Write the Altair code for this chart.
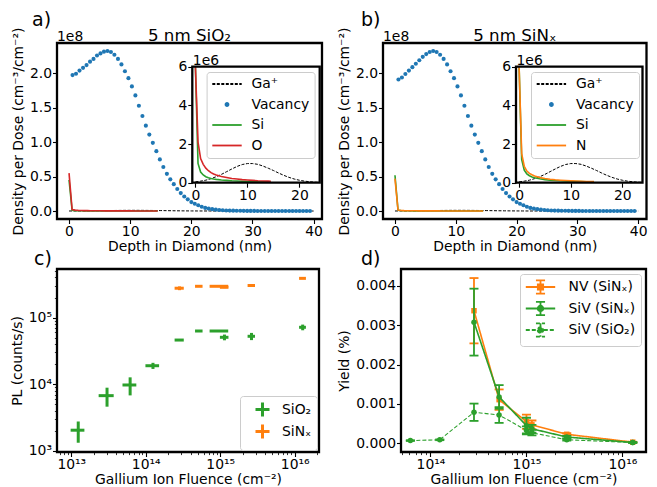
import altair as alt
import pandas as pd

FONT = "DejaVu Sans"
FS = 13.9
BLUE, ORANGE, GREEN, RED = "#1f77b4", "#ff7f0e", "#2ca02c", "#d62728"
FRAME = 2.3
TICK = 4.5

# ---------------- panels a / b : depth profiles ----------------
depth_nm = [0.57, 1.14, 1.71, 2.29, 2.86, 3.43, 4.0, 4.57, 5.14, 5.71,
            6.28, 6.85, 7.42, 8.0, 8.57, 9.14, 9.71, 10.28, 10.85, 11.42,
            12.0, 12.56, 13.13, 13.7, 14.28, 14.85, 15.42, 16.0, 16.56, 17.13,
            17.7, 18.27, 18.84, 19.41, 20.0, 20.56, 21.13, 21.7, 22.27, 22.84,
            23.41, 24.0, 24.56, 25.13, 25.7, 26.27, 26.84, 27.41, 28.0, 28.56,
            29.13, 29.7, 30.27, 30.84, 31.41, 32.0, 32.56, 33.13, 33.7, 34.27,
            34.84, 35.41, 36.0, 36.56, 37.13, 37.7, 38.27, 38.84, 39.41]
# vacancy density per dose, units of 1e8 cm^-3/cm^-2
vacancy_sio2 = [1.975, 1.995, 2.04, 2.08, 2.12, 2.17, 2.21, 2.26, 2.29, 2.315,
                2.325, 2.31, 2.27, 2.21, 2.13, 2.03, 1.93, 1.81, 1.68, 1.53,
                1.38, 1.24, 1.11, 0.99, 0.87, 0.75, 0.64, 0.54, 0.46, 0.39,
                0.32, 0.26, 0.21, 0.17, 0.13, 0.105, 0.083, 0.062, 0.045, 0.035,
                0.027, 0.02, 0.015, 0.011, 0.008, 0.006, 0.005, 0.004, 0.003, 0.0025,
                0.002, 0.0015, 0.0012, 0.001, 0.0008, 0.0006, 0.0005, 0.0004, 0.0003, 0.0003,
                0.0002, 0.0002, 0.0001, 0.0001, 0.0001, 0.0001, 0.0, 0.0, 0.0]
vacancy_sinx = [1.91, 1.94, 1.99, 2.04, 2.09, 2.14, 2.19, 2.24, 2.28, 2.31,
                2.325, 2.31, 2.27, 2.21, 2.13, 2.03, 1.93, 1.81, 1.68, 1.53,
                1.38, 1.24, 1.11, 0.99, 0.87, 0.75, 0.64, 0.54, 0.46, 0.39,
                0.32, 0.26, 0.21, 0.17, 0.13, 0.105, 0.083, 0.062, 0.045, 0.035,
                0.027, 0.02, 0.015, 0.011, 0.008, 0.006, 0.005, 0.004, 0.003, 0.0025,
                0.002, 0.0015, 0.0012, 0.001, 0.0008, 0.0006, 0.0005, 0.0004, 0.0003, 0.0003,
                0.0002, 0.0002, 0.0001, 0.0001, 0.0001, 0.0001, 0.0, 0.0, 0.0]
# recoil profiles, units of 1e6
profile_depth = [0, 0.5, 1.0, 1.5, 2.0, 2.5, 3.0, 3.5, 4.0, 5.0,
                 6.0, 7.0, 8.0, 9.0, 10.0, 11.0, 12.0, 13.0, 14.0, 14.5]
si_sio2 = [45, 1.0, 0.55, 0.4, 0.31, 0.26, 0.22, 0.19, 0.17, 0.14,
           0.12, 0.1, 0.09, 0.075, 0.065, 0.055, 0.05, 0.045, 0.04, 0.04]
o_sio2 = [55, 2.1, 1.25, 0.95, 0.75, 0.62, 0.52, 0.45, 0.4, 0.32,
          0.27, 0.22, 0.19, 0.16, 0.14, 0.12, 0.1, 0.09, 0.08, 0.075]
si_sinx = [52, 1.2, 0.65, 0.45, 0.36, 0.3, 0.26, 0.23, 0.2, 0.16,
           0.13, 0.11, 0.1, 0.085, 0.075, 0.065, 0.058, 0.05, 0.045, 0.043]
n_sinx = [47, 1.5, 0.85, 0.6, 0.48, 0.41, 0.35, 0.31, 0.27, 0.22,
          0.18, 0.15, 0.13, 0.11, 0.095, 0.085, 0.075, 0.065, 0.06, 0.055]
ga_depth = [0, 1, 2, 3, 4, 5, 6, 7, 8, 9, 10, 11, 12, 13, 14, 15, 16, 17, 18, 19,
            20, 21, 22, 23, 24, 26, 28, 30, 35, 40]
ga_profile = [0.045, 0.08, 0.13, 0.21, 0.31, 0.43, 0.57, 0.71, 0.84, 0.94,
              0.99, 0.99, 0.95, 0.86, 0.75, 0.63, 0.50, 0.38, 0.275, 0.19,
              0.127, 0.08, 0.049, 0.028, 0.016, 0.004, 0.001, 0.0, 0.0, 0.0]

main_x_ticks = [0, 10, 20, 30, 40]
main_y_ticks = [0, 0.5e8, 1.0e8, 1.5e8, 2.0e8]
inset_x_ticks = [0, 10, 20]
inset_y_ticks = [0, 2e6, 4e6, 6e6]

# ---------------- panel c : PL vs fluence ----------------
c_fluence_sio2 = [1.24e13, 3.02e13, 6.17e13, 1.25e14, 2.84e14, 5.19e14, 1.0e15, 1.14e15, 2.63e15, 1.28e16]
c_fluence_err_sio2 = [0.26e13, 0.69e13, 1.3e13, 0.26e14, 0.4e14, 0.6e14, 2.8e14, 1.5e14, 3.0e14, 1.35e15]
c_pl_sio2 = [2050, 6760, 9770, 19000, 46100, 63000, 63000, 50700, 52500, 71600]
c_pl_err_sio2 = [720, 2140, 2950, 2000, 1500, 300, 800, 5000, 6500, 7000]
c_fluence_sinx = [2.84e14, 5.19e14, 1.0e15, 1.14e15, 2.63e15, 1.28e16]
c_fluence_err_sinx = [0.4e14, 0.6e14, 2.8e14, 1.5e14, 3.0e14, 1.35e15]
c_pl_sinx = [276000, 295000, 295000, 285000, 303000, 388000]
c_pl_err_sinx = [18000, 3000, 3000, 8000, 5000, 5000]

# ---------------- panel d : yield vs fluence ----------------
d_fluence_sinx = [2.84e14, 5.19e14, 1.0e15, 1.14e15, 2.63e15, 1.28e16]
nv_yield = [0.00337, 0.00111, 0.00055, 0.00047, 0.00023, 0.00003]
nv_err = [0.00083, 0.00026, 0.00018, 0.00011, 0.00003, 0.00001]
siv_sinx_yield = [0.00308, 0.00118, 0.00045, 0.00037, 0.00016, 0.00002]
siv_sinx_err = [0.00085, 0.0003, 0.0002, 0.0001, 0.00003, 0.00001]
d_fluence_sio2 = [6.17e13, 1.25e14, 2.84e14, 5.19e14, 1.0e15, 1.14e15, 2.63e15, 1.28e16]
siv_sio2_yield = [0.00007, 0.00009, 0.00079, 0.00072, 0.00033, 0.00027, 0.00009, 0.00002]
siv_sio2_err = [0.00001, 0.00001, 0.00022, 0.0002, 0.0001, 0.00007, 0.00002, 0.00001]

# log axis ticks
c_x_major = [1e13, 1e14, 1e15, 1e16]
c_x_labels = ["10¹³", "10¹⁴", "10¹⁵", "10¹⁶"]
c_x_minor = [7e12, 8e12, 9e12, 2e13, 3e13, 4e13, 5e13, 6e13, 7e13, 8e13, 9e13,
             2e14, 3e14, 4e14, 5e14, 6e14, 7e14, 8e14, 9e14,
             2e15, 3e15, 4e15, 5e15, 6e15, 7e15, 8e15, 9e15, 2e16]
c_y_major = [1e3, 1e4, 1e5]
c_y_labels = ["10³", "10⁴", "10⁵"]
c_y_minor = [2e3, 3e3, 4e3, 5e3, 6e3, 7e3, 8e3, 9e3, 2e4, 3e4, 4e4, 5e4, 6e4, 7e4, 8e4, 9e4,
             2e5, 3e5, 4e5, 5e5]
d_x_major = [1e14, 1e15, 1e16]
d_x_labels = ["10¹⁴", "10¹⁵", "10¹⁶"]
d_x_minor = [5e13, 6e13, 7e13, 8e13, 9e13, 2e14, 3e14, 4e14, 5e14, 6e14, 7e14, 8e14, 9e14,
             2e15, 3e15, 4e15, 5e15, 6e15, 7e15, 8e15, 9e15]
d_y_ticks = [0, 0.001, 0.002, 0.003, 0.004]


def log_axis(title, majors, labels, minors, **kw):
    expr = " : ".join(f"datum.value == {m!r} ? '{lab}'" for m, lab in zip(majors, labels)) + " : ''"
    test = "indexof([" + ",".join(repr(m) for m in majors) + "], datum.value) >= 0"
    return alt.Axis(title=title, values=sorted(majors + minors), labelExpr=expr,
                    tickSize={"condition": {"test": test, "value": TICK}, "value": 2.6},
                    tickWidth={"condition": {"test": test, "value": 1.1}, "value": 0.8},
                    labelOverlap=False, **kw)


def text_mark(txt, dx, dy, size, align="left"):
    return alt.Chart(pd.DataFrame({"t": [txt]})).mark_text(
        align=align, baseline="alphabetic", font=FONT, fontSize=size, color="black"
    ).encode(x=alt.value(dx), y=alt.value(dy), text="t:N")


def dot_path(r):
    return f"M{-r},0A{r},{r} 0 1,0 {r},0A{r},{r} 0 1,0 {-r},0Z"


def depth_panel(let, let_dx, title, vac, si_vals, el_name, el_vals, el_color,
                W, H, ix0, ix1, iy_top, iy_bot, ixmin, ixmax, lx, ly):
    vac_df = pd.DataFrame({"depth": depth_nm, "val": [v * 1e8 for v in vac]})
    prof_df = pd.DataFrame({
        "depth": profile_depth + profile_depth,
        "val": [v * 1e6 for v in si_vals] + [v * 1e6 for v in el_vals],
        "series": ["Si"] * len(profile_depth) + [el_name] * len(profile_depth),
    })
    ga_df = pd.DataFrame({"depth": ga_depth, "val": [v * 1e6 for v in ga_profile],
                          "series": ["Ga⁺"] * len(ga_depth)})

    xs = alt.Scale(domain=[-1.97, 41.37], nice=False, zero=False)
    ys = alt.Scale(domain=[-0.116e8, 2.441e8], nice=False, zero=False)
    xa = alt.Axis(values=main_x_ticks, format="d", title="Depth in Diamond (nm)")
    ya = alt.Axis(values=main_y_ticks, labelExpr="format(datum.value / 1e8, '.1f')",
                  title="Density per Dose (cm⁻³/cm⁻²)")
    X = alt.X("depth:Q", scale=xs, axis=xa)
    Y = alt.Y("val:Q", scale=ys, axis=ya)
    col_main = alt.Color("series:N", scale=alt.Scale(domain=["Si", el_name], range=[GREEN, el_color]),
                         legend=None)
    m_ga = alt.Chart(ga_df).mark_line(color="black", strokeWidth=1, strokeDash=[3, 1.5]).encode(X, Y)
    m_vac = alt.Chart(vac_df).mark_circle(size=17, color=BLUE, opacity=1).encode(X, Y)
    m_prof = alt.Chart(prof_df).mark_line(strokeWidth=1.6).encode(X, Y, color=col_main)
    main = alt.layer(m_ga, m_vac, m_prof,
                     text_mark("1e8", 0, -2, FS),
                     text_mark(title, W / 2, -2, 16.7, "center"),
                     text_mark(let, let_dx, -17.5, 19))

    # inset
    ixs = alt.Scale(domain=[ixmin, ixmax], range=[ix0, ix1], nice=False, zero=False, clamp=True)
    iys = alt.Scale(domain=[0, 6e6], range=[iy_bot, iy_top], nice=False, zero=False, clamp=True)
    ixa = alt.Axis(orient="bottom", offset=iy_bot - H, values=inset_x_ticks, format="d", title=None, zindex=2)
    iya = alt.Axis(orient="left", offset=-ix0, values=inset_y_ticks,
                   labelExpr="format(datum.value / 1e6, 'd')", title="1e6", titleAngle=0,
                   titleAlign="left", titleBaseline="alphabetic", titleX=0, titleY=iy_top - 2,
                   titleFontSize=FS, zindex=2)
    IX = alt.X("depth:Q", scale=ixs, axis=ixa)
    IY = alt.Y("val:Q", scale=iys, axis=iya)
    leg = alt.Legend(
        orient="none", legendX=lx, legendY=ly, title=None, fillColor="white",
        strokeColor="#cccccc", cornerRadius=3, padding=5, symbolSize=144, rowPadding=6.5,
        symbolOffset=8.4, labelOffset=17.5, labelFontSize=FS, labelFont=FONT, symbolStrokeWidth=1.8,
        symbolType={"expr": f"datum.value === 'Vacancy' ? '{dot_path(0.25)}' : 'M-2.45,0H2.45'"},
        symbolFillColor={"expr": f"datum.value === 'Vacancy' ? '{BLUE}' : 'transparent'"},
        symbolDash={"expr": "datum.value === 'Ga⁺' ? [3, 1.5] : []"},
    )
    col_inset = alt.Color("series:N", scale=alt.Scale(domain=["Ga⁺", "Vacancy", "Si", el_name],
                                                      range=["black", BLUE, GREEN, el_color]),
                          legend=leg)
    one = pd.DataFrame({"a": [0]})
    box_enc = dict(
        x=alt.XDatum(ixmin, type="quantitative", scale=ixs, axis=ixa),
        x2=alt.X2Datum(ixmax),
        y=alt.YDatum(0, type="quantitative", scale=iys, axis=iya),
        y2=alt.Y2Datum(6e6),
    )
    i_bg = alt.Chart(one).mark_rect(fill="white", strokeWidth=0).encode(**box_enc)
    i_ga = alt.Chart(ga_df).mark_line(strokeWidth=1, strokeDash=[3, 1.5]).encode(IX, IY, color=col_inset)
    i_prof = alt.Chart(prof_df).mark_line(strokeWidth=1.6).encode(IX, IY, color=col_inset)
    i_frame = alt.Chart(one).mark_rect(fill=None, filled=False, stroke="black", strokeWidth=FRAME).encode(**box_enc)
    inset = alt.layer(i_bg, i_ga, i_prof, i_frame)

    return alt.layer(main, inset).resolve_scale(
        x="independent", y="independent", color="independent").properties(width=W, height=H)


panel_a = depth_panel("a)", -25, "5 nm SiO₂", vacancy_sio2, si_sio2, "O", o_sio2, RED,
                      265, 176, 135.3, 262.7, 23.7, 139.7, -0.6, 23.9, 149.6, 29)
panel_b = depth_panel("b)", -22, "5 nm SiNₓ", vacancy_sinx, si_sinx, "N", n_sinx, ORANGE,
                      263.5, 176, 133, 259.5, 23.7, 139.7, -0.6, 23.9, 148, 29)

# ---------------- panel c ----------------
rows = []
for name, fl, fe, pl, pe in [("SiO₂", c_fluence_sio2, c_fluence_err_sio2, c_pl_sio2, c_pl_err_sio2),
                             ("SiNₓ", c_fluence_sinx, c_fluence_err_sinx, c_pl_sinx, c_pl_err_sinx)]:
    for f, e1, p, e2 in zip(fl, fe, pl, pe):
        rows.append(dict(series=name, x=f, xlo=f - e1, xhi=f + e1, y=p, ylo=p - e2, yhi=p + e2))
c_df = pd.DataFrame(rows)
cxs = alt.Scale(type="log", domain=[6.43e12, 2.12e16], nice=False)
cys = alt.Scale(type="log", domain=[966, 5.36e5], nice=False)
cxa = log_axis("Gallium Ion Fluence (cm⁻²)", c_x_major, c_x_labels, c_x_minor)
cya = log_axis("PL (counts/s)", c_y_major, c_y_labels, c_y_minor)
c_leg = alt.Legend(orient="bottom-right", offset=2, title=None, fillColor="white", strokeColor="#cccccc",
                   cornerRadius=3, padding=5, symbolType="M-1,0H1M0,-1V1", symbolSize=196,
                   symbolStrokeWidth=3, symbolOffset=9, rowPadding=-10, labelOffset=11,
                   labelFontSize=FS, labelFont=FONT)
ccol = alt.Color("series:N", scale=alt.Scale(domain=["SiO₂", "SiNₓ"], range=[GREEN, ORANGE]), legend=c_leg)
c_layers = []
for name in ["SiO₂", "SiNₓ"]:
    sub = c_df[c_df.series == name]
    c_layers.append(alt.Chart(sub).mark_rule(strokeWidth=3).encode(
        x=alt.X("x:Q", scale=cxs, axis=cxa), y=alt.Y("ylo:Q", scale=cys, axis=cya), y2="yhi:Q", color=ccol))
    c_layers.append(alt.Chart(sub).mark_rule(strokeWidth=3).encode(
        x=alt.X("xlo:Q", scale=cxs, axis=cxa), x2="xhi:Q", y=alt.Y("y:Q", scale=cys, axis=cya), color=ccol))
c_layers.append(text_mark("c)", -23, -4, 19))
panel_c = alt.layer(*c_layers).properties(width=262, height=183)

# ---------------- panel d ----------------
d_names = ["NV (SiNₓ)", "SiV (SiNₓ)", "SiV (SiO₂)"]
d_series = [
    (d_names[0], d_fluence_sinx, nv_yield, nv_err, [1, 0], "square", 1.6),
    (d_names[1], d_fluence_sinx, siv_sinx_yield, siv_sinx_err, [1, 0], "circle", 1.6),
    (d_names[2], d_fluence_sio2, siv_sio2_yield, siv_sio2_err, [4, 2], "circle", 1.1),
]
dxs = alt.Scale(type="log", domain=[4.93e13, 1.76e16], nice=False)
dys = alt.Scale(domain=[-0.00022, 0.00443], nice=False, zero=False)
dxa = log_axis("Gallium Ion Fluence (cm⁻²)", d_x_major, d_x_labels, d_x_minor)
dya = alt.Axis(values=d_y_ticks, format=".3f", title="Yield (%)")
sq = "M-0.38,-0.38H0.38V0.38H-0.38Z"
circ = dot_path(0.4)
bar = "M-2.1,0H2.1M0,-0.95V0.95M-0.65,-0.95H0.65M-0.65,0.95H0.65"
d_leg = alt.Legend(
    orient="top-right", offset=5, title=None, fillColor="white", strokeColor="#cccccc", cornerRadius=3,
    padding=5, symbolSize=196, rowPadding=-0.5, symbolOffset=7.5, labelOffset=20,
    labelFontSize=FS, labelFont=FONT, symbolStrokeWidth=1.8,
    symbolType={"expr": f"datum.value === '{d_names[0]}' ? '{bar}{sq}' : '{bar}{circ}'"},
    symbolFillColor={"expr": f"datum.value === '{d_names[0]}' ? '{ORANGE}' : '{GREEN}'"},
    symbolDash={"expr": f"datum.value === '{d_names[2]}' ? [4, 2] : []"},
)
dcol = alt.Color("series:N", scale=alt.Scale(domain=d_names, range=[ORANGE, GREEN, GREEN]), legend=d_leg)
d_layers = []
for name, fl, yv, ye, dash, shape, lw in d_series:
    df = pd.DataFrame({"series": name, "x": fl, "y": yv,
                       "lo": [a - b for a, b in zip(yv, ye)], "hi": [a + b for a, b in zip(yv, ye)]})
    caps = pd.DataFrame({"series": name, "x": fl + fl,
                         "y": [a - b for a, b in zip(yv, ye)] + [a + b for a, b in zip(yv, ye)]})
    DX = alt.X("x:Q", scale=dxs, axis=dxa)
    d_layers.append(alt.Chart(df).mark_line(strokeWidth=lw, strokeDash=dash).encode(
        DX, alt.Y("y:Q", scale=dys, axis=dya), color=dcol))
    d_layers.append(alt.Chart(df).mark_rule(strokeWidth=1.8).encode(
        DX, alt.Y("lo:Q", scale=dys, axis=dya), y2="hi:Q", color=dcol))
    d_layers.append(alt.Chart(caps).mark_tick(orient="horizontal", size=9, thickness=1.8, opacity=1).encode(
        DX, alt.Y("y:Q", scale=dys, axis=dya), color=dcol))
    d_layers.append(alt.Chart(df).mark_point(shape=shape, filled=True, size=30, opacity=1).encode(
        DX, alt.Y("y:Q", scale=dys, axis=dya), color=dcol))
d_layers.append(text_mark("d)", -40, -4, 19))
panel_d = alt.layer(*d_layers).properties(width=245, height=183)

chart = alt.vconcat(
    alt.hconcat(panel_a, panel_b, spacing=61, bounds="flush").resolve_scale(color="independent"),
    alt.hconcat(panel_c, panel_d, spacing=82, bounds="flush").resolve_scale(color="independent"),
    spacing=-7,
).resolve_scale(color="independent").properties(
    padding={"left": 1, "top": 1, "right": 0, "bottom": 0}
).configure_view(
    stroke="black", strokeWidth=FRAME
).configure_axis(
    domain=False, grid=False, tickColor="black", tickSize=TICK, tickWidth=1.1,
    labelColor="black", titleColor="black", labelFont=FONT, titleFont=FONT,
    labelFontSize=FS, titleFontSize=FS, titleFontWeight="normal", labelPadding=1
).configure_axisX(
    titlePadding=1
).configure_axisY(
    titlePadding=4
).configure_legend(
    labelFont=FONT, labelFontSize=FS, labelColor="black"
)

chart.save("out.html", embed_options={"renderer": "svg", "actions": False})
